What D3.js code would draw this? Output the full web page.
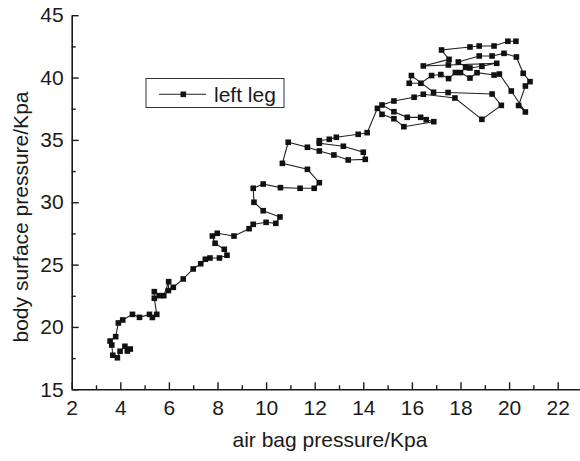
<!DOCTYPE html>
<html>
<head>
<meta charset="utf-8">
<script src="https://cdn.jsdelivr.net/npm/d3@7"></script>
<style>
  body { margin: 0; background: #fff; }
  svg { display: block; font-family: "Liberation Sans", Arial, sans-serif; }
</style>
</head>
<body>
<div id="chart"></div>
<script>
// air bag pressure (Kpa) in path order
const airBag = [
    4.29, 4.41, 4.19, 3.99, 3.88, 3.69, 3.65, 3.58, 3.81, 3.92, 4.10, 4.50, 4.79, 5.20, 5.32, 5.50,
    5.40, 5.40, 5.61, 5.79, 5.99, 5.98, 6.18, 6.59, 7.00, 7.31, 7.50, 7.69, 8.08, 8.39, 8.28, 7.90,
    7.79, 7.99, 8.68, 9.30, 9.47, 10.00, 10.40, 10.57, 9.88, 9.50, 9.47, 9.88, 10.59, 11.40, 11.98, 12.19,
    11.70, 10.67, 10.91, 11.70, 12.19, 12.79, 13.38, 14.08, 14.00, 13.18, 12.19, 12.19, 12.60, 12.89, 13.79, 14.16,
    14.58, 14.77, 15.26, 15.67, 16.90, 16.59, 16.36, 15.81, 15.26, 14.77, 15.26, 16.09, 16.47, 17.77, 18.88, 19.68,
    19.30, 17.49, 16.89, 15.98, 15.89, 16.37, 16.81, 17.19, 17.51, 17.79, 18.00, 18.39, 18.68, 19.38, 19.60, 20.09,
    20.67, 20.39, 20.67, 20.86, 20.58, 20.30, 19.79, 19.30, 18.77, 17.91, 18.21, 18.39, 18.88, 19.49, 17.50, 16.47,
    17.53, 17.22, 18.39, 18.77, 19.38, 19.95, 20.28
];
// body surface pressure (Kpa), same order
const bodySurface = [
    18.07, 18.23, 18.45, 18.05, 17.53, 17.73, 18.55, 18.87, 19.22, 20.32, 20.56, 21.01, 20.77, 21.01, 20.76, 21.01,
    22.30, 22.83, 22.51, 22.51, 23.63, 22.92, 23.18, 23.85, 24.65, 25.07, 25.43, 25.53, 25.53, 25.75, 26.23, 26.71,
    27.29, 27.51, 27.29, 27.88, 28.23, 28.39, 28.31, 28.82, 29.32, 30.00, 31.12, 31.46, 31.17, 31.12, 31.12, 31.57,
    32.64, 33.12, 34.81, 34.41, 34.11, 33.79, 33.39, 33.44, 34.01, 34.49, 34.73, 34.94, 35.05, 35.21, 35.45, 35.58,
    37.53, 37.05, 36.70, 36.06, 36.46, 36.62, 36.81, 36.81, 37.26, 37.80, 38.12, 38.42, 38.66, 38.36, 36.65, 37.77,
    38.68, 38.80, 38.82, 40.16, 39.54, 39.54, 40.16, 40.24, 39.92, 40.40, 40.40, 39.96, 40.39, 40.20, 40.28, 38.92,
    37.24, 37.76, 39.32, 39.67, 40.34, 41.65, 41.94, 41.73, 41.73, 41.25, 40.81, 40.77, 40.90, 41.14, 41.01, 40.93,
    41.46, 42.21, 42.45, 42.53, 42.53, 42.91, 42.91
];

const xTicks = [2, 4, 6, 8, 10, 12, 14, 16, 18, 20, 22];
const xMinorTicks = [3, 5, 7, 9, 11, 13, 15, 17, 19, 21, 23];
const yTicks = [15, 20, 25, 30, 35, 40, 45];
const yMinorTicks = [17.5, 22.5, 27.5, 32.5, 37.5, 42.5];
const seriesName = 'left leg';

drawChart();

function drawChart() {
    const width = 580;
    const height = 461;
    const ink = '#1a1a1a';

    const svg = d3.select('#chart')
        .append('svg')
        .attr('width', width)
        .attr('height', height);

    const x = d3.scaleLinear().domain([2, 23]).range([71.7, 582]);
    const y = d3.scaleLinear().domain([15, 45]).range([389.3, 15.2]);

    // axes, ticks point inwards
    const xAxis = svg.append('g')
        .attr('transform', `translate(0, ${y(15)})`)
        .call(d3.axisBottom(x).tickValues(xTicks).tickSizeInner(-7).tickSizeOuter(0).tickPadding(11));
    svg.append('g')
        .attr('transform', `translate(0, ${y(15)})`)
        .call(d3.axisBottom(x).tickValues(xMinorTicks).tickFormat('').tickSizeInner(-4).tickSizeOuter(0))
        .select('.domain').remove();

    const yAxis = svg.append('g')
        .attr('transform', `translate(${x(2)}, 0)`)
        .call(d3.axisLeft(y).tickValues(yTicks).tickSizeInner(-7).tickSizeOuter(0).tickPadding(8));
    svg.append('g')
        .attr('transform', `translate(${x(2)}, 0)`)
        .call(d3.axisLeft(y).tickValues(yMinorTicks).tickFormat('').tickSizeInner(-4).tickSizeOuter(0))
        .select('.domain').remove();

    svg.selectAll('.domain').attr('stroke', ink).attr('stroke-width', 1.6);
    svg.selectAll('.tick line').attr('stroke', ink).attr('stroke-width', 1.4);
    svg.selectAll('.tick text')
        .attr('fill', ink)
        .style('font-size', '21px')
        .style('font-family', '"Liberation Sans", Arial, sans-serif');

    // axis titles
    svg.append('text')
        .attr('x', 330)
        .attr('y', 447)
        .attr('text-anchor', 'middle')
        .attr('fill', ink)
        .style('font-size', '21px')
        .text('air bag pressure/Kpa');

    svg.append('text')
        .attr('transform', 'translate(28, 217) rotate(-90)')
        .attr('text-anchor', 'middle')
        .attr('fill', ink)
        .style('font-size', '21px')
        .text('body surface pressure/Kpa');

    // series line + square markers
    const points = airBag.map((v, i) => ({ x: v, y: bodySurface[i] }));
    const line = d3.line().x(d => x(d.x)).y(d => y(d.y));

    svg.append('path')
        .datum(points)
        .attr('fill', 'none')
        .attr('stroke', '#222')
        .attr('stroke-width', 1.1)
        .attr('d', line);

    const size = 5.6;
    svg.append('g')
        .selectAll('rect')
        .data(points)
        .join('rect')
        .attr('x', d => x(d.x) - size / 2)
        .attr('y', d => y(d.y) - size / 2)
        .attr('width', size)
        .attr('height', size)
        .attr('fill', '#111');

    // legend
    const legend = svg.append('g');
    legend.append('rect')
        .attr('x', 146)
        .attr('y', 78.5)
        .attr('width', 138)
        .attr('height', 29)
        .attr('fill', '#fff')
        .attr('stroke', '#333')
        .attr('stroke-width', 1);
    legend.append('line')
        .attr('x1', 159).attr('x2', 206)
        .attr('y1', 94.3).attr('y2', 94.3)
        .attr('stroke', '#222')
        .attr('stroke-width', 1.1);
    legend.append('rect')
        .attr('x', 183.3 - size / 2)
        .attr('y', 94.3 - size / 2)
        .attr('width', size)
        .attr('height', size)
        .attr('fill', '#111');
    legend.append('text')
        .attr('x', 214)
        .attr('y', 101.5)
        .attr('fill', ink)
        .style('font-size', '21px')
        .text(seriesName);
}
</script>
</body>
</html>
